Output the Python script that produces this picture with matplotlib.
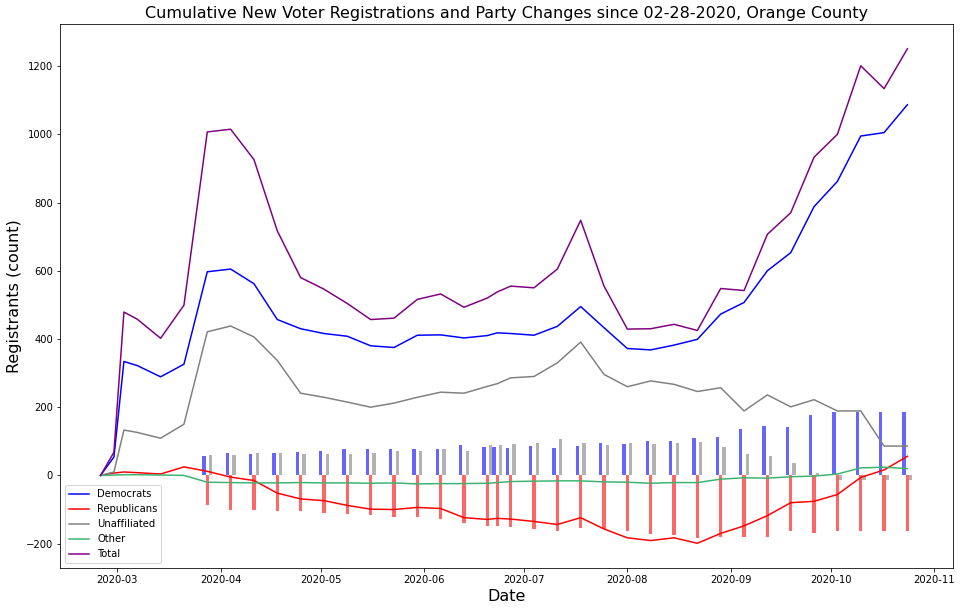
import matplotlib
matplotlib.use("Agg")
import matplotlib.pyplot as plt
import matplotlib.dates as mdates
import pandas as pd

# cumulative lines (one point per report date)
line_dates = ["2020-02-25", "2020-02-29", "2020-03-03", "2020-03-07", "2020-03-14", "2020-03-21",
              "2020-03-28", "2020-04-04", "2020-04-11", "2020-04-18", "2020-04-25", "2020-05-02",
              "2020-05-09", "2020-05-16", "2020-05-23", "2020-05-30", "2020-06-06", "2020-06-13",
              "2020-06-20", "2020-06-23", "2020-06-27", "2020-07-04", "2020-07-11", "2020-07-18",
              "2020-07-25", "2020-08-01", "2020-08-08", "2020-08-15", "2020-08-22", "2020-08-29",
              "2020-09-05", "2020-09-12", "2020-09-19", "2020-09-26", "2020-10-03", "2020-10-10",
              "2020-10-17", "2020-10-24"]
democrats = [0, 54, 334, 322, 289, 326, 597, 605, 562, 457, 430, 416, 408, 380, 375, 411, 412, 403,
             410, 418, 416, 411, 437, 495, 433, 372, 368, 382, 399, 473, 507, 600, 653, 788, 862,
             995, 1005, 1087]
republicans = [0, 7, 10, 8, 4, 25, 12, -5, -15, -52, -69, -74, -88, -99, -100, -94, -97, -124,
               -129, -126, -128, -135, -144, -124, -157, -183, -191, -183, -199, -170, -148, -118,
               -80, -76, -56, -6, 16, 56]
unaffiliated = [0, 10, 133, 126, 109, 150, 421, 438, 406, 337, 241, 229, 215, 200, 212, 229, 244,
                241, 261, 269, 286, 290, 330, 391, 296, 260, 277, 267, 246, 257, 189, 236, 201, 222,
                189, 189, 86, 86]
other = [0, 1, 2, 2, 1, 0, -20, -21, -22, -22, -21, -22, -22, -23, -22, -25, -24, -24, -23, -21,
         -18, -17, -16, -16, -19, -20, -23, -21, -21, -11, -7, -8, -4, -2, 4, 22, 24, 20]
total = [0, 68, 479, 458, 402, 499, 1007, 1015, 926, 717, 580, 546, 504, 457, 461, 516, 532, 493,
         520, 538, 555, 550, 605, 748, 555, 429, 430, 443, 425, 548, 542, 707, 770, 933, 1000,
         1201, 1134, 1251]

# party changes (bars)
bar_dates = line_dates[6:]
dem_changes = [56, 65, 62, 65, 68, 71, 77, 77, 77, 77, 77, 88, 82, 82, 79, 85, 79, 85, 94, 91,
               100, 100, 109, 114, 135, 144, 141, 176, 185, 185, 185, 185]
rep_changes = [-88, -100, -100, -103, -103, -109, -112, -117, -123, -123, -128, -141, -147, -147,
               -150, -158, -164, -155, -156, -164, -173, -176, -184, -181, -181, -181, -164, -170,
               -164, -164, -164, -164]
una_changes = [59, 59, 65, 65, 62, 62, 62, 65, 71, 73, 76, 73, 88, 88, 91, 94, 106, 94, 88, 94,
               91, 94, 97, 82, 62, 56, 35, 6, -13, -13, -13, -13]

ld = pd.to_datetime(line_dates)
bd = pd.to_datetime(bar_dates)
day = pd.Timedelta(days=1)

fig = plt.figure(figsize=(962 / 72, 611 / 72), dpi=72)
ax = fig.add_axes([60 / 962, 43 / 611, 893 / 962, 544 / 611])

ax.bar(bd - day, dem_changes, width=1, color="blue", alpha=0.6, zorder=1)
ax.bar(bd, rep_changes, width=1, color="red", alpha=0.6, zorder=1)
ax.bar(bd + day, una_changes, width=1, color="gray", alpha=0.6, zorder=1)

ax.plot(ld, democrats, color="blue", label="Democrats", zorder=2)
ax.plot(ld, republicans, color="red", label="Republicans", zorder=2)
ax.plot(ld, unaffiliated, color="gray", label="Unaffiliated", zorder=2)
ax.plot(ld, other, color="mediumseagreen", label="Other", zorder=2)
ax.plot(ld, total, color="purple", label="Total", zorder=2)

ax.xaxis.set_major_locator(mdates.MonthLocator())
ax.xaxis.set_major_formatter(mdates.DateFormatter("%Y-%m"))
ax.set_yticks(range(-200, 1201, 200))

ax.set_title("Cumulative New Voter Registrations and Party Changes since 02-28-2020, Orange County",
             fontsize=16)
ax.set_xlabel("Date", fontsize=16)
ax.set_ylabel("Registrants (count)", fontsize=16)
ax.legend(loc="lower left", fontsize=10)

fig.savefig("out.png", dpi=72)
